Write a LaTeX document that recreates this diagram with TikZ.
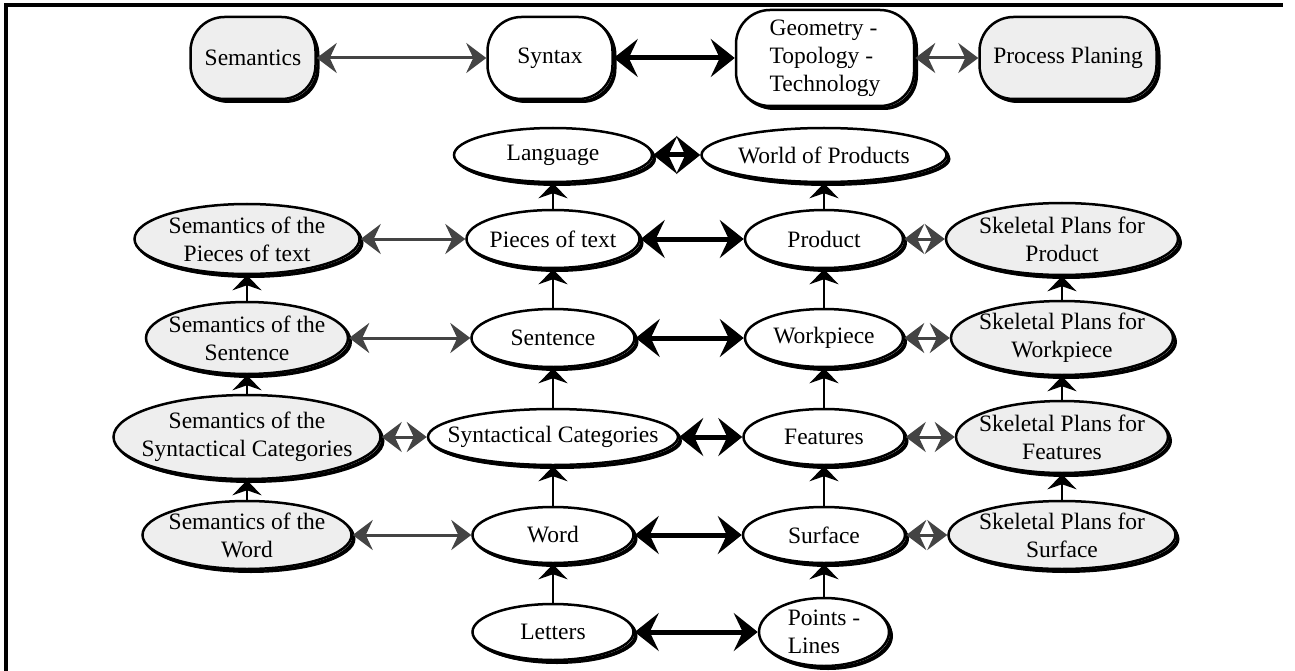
\documentclass[tikz,border=0pt]{standalone}
\usepackage{fontspec}
\setmainfont{Liberation Serif}
\usetikzlibrary{shapes.geometric,arrows.meta,shadows}
\definecolor{lg}{HTML}{EEEEEE}
\definecolor{dg}{HTML}{444444}
\begin{document}
\begin{tikzpicture}[x=1pt,y=-1pt,
  base/.style={draw=black, line width=2.5pt, font=\fontsize{23.5}{28}\selectfont, align=center,
    drop shadow={shadow xshift=4pt,shadow yshift=-4pt,fill=black,opacity=1},
    copy shadow={shadow xshift=2pt,shadow yshift=-2pt}},
  ell/.style 2 args={base, ellipse, inner sep=-30pt, minimum width=#1, minimum height=#2},
  rbox/.style 2 args={base, rectangle, rounded corners=34pt, inner sep=0pt, minimum width=#1, minimum height=#2},
  gr/.style={fill=lg}, wh/.style={fill=white},
  varr/.style={draw=black, line width=2.5pt, -{Stealth[length=15pt,width=29pt,inset=5pt]}},
  garr/.style={draw=dg, line width=3pt, {Stealth[length=20pt,width=30pt,inset=7pt]}-{Stealth[length=20pt,width=30pt,inset=7pt]}},
  barr/.style={draw=black, line width=5pt, {Stealth[length=24pt,width=38pt,inset=9pt]}-{Stealth[length=24pt,width=38pt,inset=9pt]}},
  frame/.style={draw=black, line width=3.5pt}
]
\useasboundingbox (0,0) rectangle (1295,671);
\draw[frame] (6,671) -- (6,5) -- (1283,5);

% top row
\node[rbox={125pt}{82pt}, gr] (sem) at (253,58) {Semantics};
\node[rbox={125pt}{82pt}, wh] (syn) at (550,58) {Syntax};
\node[rbox={178pt}{96pt}, wh, align=left] (geo) at (825,58) {Geometry -\\Topology -\\Technology};
\node[rbox={177pt}{82pt}, gr] (proc) at (1068,58) {Process Planing};

% language row
\node[ell={198pt}{54pt}, wh] (lang) at (553,155) {Language};
\node[ell={245pt}{54pt}, wh] (wop) at (824,155) {World of Products};

% pieces row
\node[ell={225pt}{70pt}, gr] (sp) at (247,239) {Semantics of the\\Pieces of text};
\node[ell={173pt}{58pt}, wh] (pt) at (553,239) {Pieces of text};
\node[ell={158pt}{58pt}, wh] (prod) at (824,239) {Product};
\node[ell={232pt}{72pt}, gr] (skp) at (1062,239) {Skeletal Plans for\\Product};

% sentence row
\node[ell={202pt}{72pt}, gr] (ss) at (247,338) {Semantics of the\\Sentence};
\node[ell={163pt}{58pt}, wh] (sen) at (553,338) {Sentence};
\node[ell={158pt}{58pt}, wh] (wp) at (824,338) {Workpiece};
\node[ell={222pt}{74pt}, gr] (skw) at (1062,338) {Skeletal Plans for\\Workpiece};

% categories row
\node[ell={267pt}{84pt}, gr] (ssc) at (247,437) {Semantics of the\\Syntactical Categories};
\node[ell={250pt}{56pt}, wh] (sc) at (553,437) {Syntactical Categories};
\node[ell={161pt}{56pt}, wh] (feat) at (824,437) {Features};
\node[ell={212pt}{72pt}, gr] (skf) at (1062,437) {Skeletal Plans for\\Features};

% word row
\node[ell={209pt}{68pt}, gr] (sw) at (247,535) {Semantics of the\\Word};
\node[ell={161pt}{56pt}, wh] (word) at (553,535) {Word};
\node[ell={162pt}{56pt}, wh] (surf) at (824,535) {Surface};
\node[ell={227pt}{68pt}, gr] (sks) at (1062,535) {Skeletal Plans for\\Surface};

% letters row
\node[ell={161pt}{56pt}, wh] (let) at (553,632) {Letters};
\node[ell={130pt}{68pt}, wh, align=left] (pl) at (824,632) {Points -\\Lines};

% horizontal connectors
\draw[garr] (sem) -- (syn);
\draw[barr] (syn) -- (geo);
\draw[garr] (geo) -- (proc);
\draw[barr] (lang) -- (wop);
\draw[garr] (sp) -- (pt);
\draw[barr] (pt) -- (prod);
\draw[garr] (prod) -- (skp);
\draw[garr] (ss) -- (sen);
\draw[barr] (sen) -- (wp);
\draw[garr] (wp) -- (skw);
\draw[garr] (ssc) -- (sc);
\draw[barr] (sc) -- (feat);
\draw[garr] (feat) -- (skf);
\draw[garr] (sw) -- (word);
\draw[barr] (word) -- (surf);
\draw[garr] (surf) -- (sks);
\draw[barr] (let) -- (pl);

% vertical connectors
\draw[varr] (sw) -- (ssc);
\draw[varr] (ssc) -- (ss);
\draw[varr] (ss) -- (sp);
\draw[varr] (let) -- (word);
\draw[varr] (word) -- (sc);
\draw[varr] (sc) -- (sen);
\draw[varr] (sen) -- (pt);
\draw[varr] (pt) -- (lang);
\draw[varr] (pl) -- (surf);
\draw[varr] (surf) -- (feat);
\draw[varr] (feat) -- (wp);
\draw[varr] (wp) -- (prod);
\draw[varr] (prod) -- (wop);
\draw[varr] (sks) -- (skf);
\draw[varr] (skf) -- (skw);
\draw[varr] (skw) -- (skp);
\end{tikzpicture}
\end{document}
